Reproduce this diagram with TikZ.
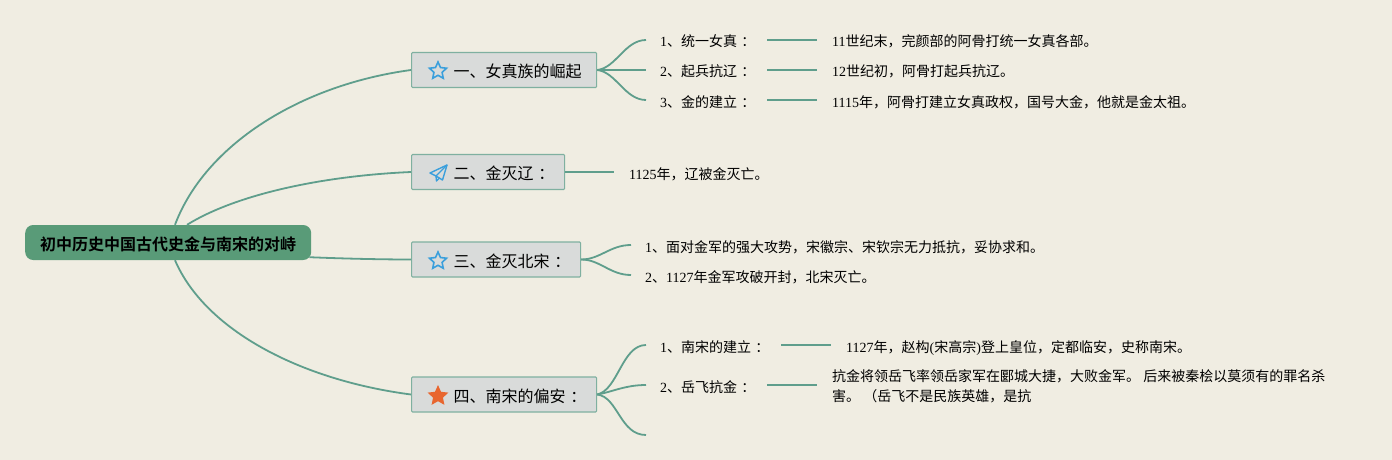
\documentclass[tikz,border=0pt]{standalone}
\usepackage{fontspec}
\setmainfont{Liberation Serif}
\newfontfamily\cjk{Noto Sans CJK SC}
\newfontfamily\cjkbold{Noto Sans CJK SC Bold}
\newcommand{\cjkcolon}{\makebox[1em][l]{\hspace{.3em}：}}
\usetikzlibrary{shapes.geometric}
\definecolor{paper}{HTML}{F0EDE2}
\definecolor{branch}{HTML}{5F9E8C}
\definecolor{rootgreen}{HTML}{599B78}
\definecolor{topicfill}{HTML}{D9DBDA}
\definecolor{topicline}{HTML}{7FB0A0}
\definecolor{iconblue}{HTML}{3A9FDC}
\definecolor{iconred}{HTML}{E8662F}
\tikzset{
  rootbox/.style={fill=rootgreen, rounded corners=8pt, minimum height=35pt, inner xsep=15pt, anchor=west, text height=15pt, text depth=0pt, font=\fontsize{16}{20}\selectfont},
  topicbox/.style={draw=topicline, fill=topicfill, line width=1.2pt, rounded corners=1pt, minimum height=35pt, inner xsep=15pt, anchor=west, text height=15pt, text depth=0pt, font=\fontsize{16}{20}\selectfont},
  subitem/.style={anchor=west, inner xsep=14pt, text width=#1, align=left, text height=14pt, text depth=0pt, font=\fontsize{14}{20}\selectfont},
  detail/.style={anchor=west, inner xsep=15pt, align=left, text height=14pt, text depth=0pt, font=\fontsize{14}{20}\selectfont},
  link/.style={draw=branch, line width=1.8pt},
  staricon/.style={star, star points=5, star point ratio=2.1, minimum size=18pt, inner sep=0pt, line width=1.6pt},
}
\begin{document}
\begin{tikzpicture}[x=1pt,y=-1pt]
  \useasboundingbox[fill=paper] (0,0) rectangle (1392,460);

  \node[rootbox] (root) at (25,242.5) {{\cjkbold 初中历史中国古代史金与南宋的对峙}};

  \node[topicbox] (topA) at (411,70) {\hspace*{27pt}{\cjk 一、女真族的崛起}};
  \node[topicbox] (topB) at (411,172) {\hspace*{27pt}{\cjk 二、金灭辽\cjkcolon}};
  \node[topicbox] (topC) at (411,259.5) {\hspace*{27pt}{\cjk 三、金灭北宋\cjkcolon}};
  \node[topicbox] (topD) at (411,394.5) {\hspace*{27pt}{\cjk 四、南宋的偏安\cjkcolon}};

  \node[staricon, draw=iconblue] (starA) at (438,71) {};
  \node[staricon, draw=iconblue] (starC) at (438,261) {};
  \node[staricon, draw=iconred, fill=iconred] (starD) at (438,396) {};
  \draw[iconblue, line width=1.4pt, line join=round] (447,165) -- (430,173) -- (436,176) -- (442.5,180) -- cycle;
  \draw[iconblue, line width=1.4pt, line join=round] (447,165) -- (436,176) -- (436.5,181) -- (439.5,178);

  \draw[link] ([xshift=150pt]root.north west) .. controls (205,145) and (300,85) .. (topA.west);
  \draw[link] ([xshift=162pt]root.north west) .. controls (235,195) and (320,176) .. (topB.west);
  \draw[link] (root.south east) ++(-2,-3) .. controls (340,258.5) and (380,259.5) .. (topC.west);
  \draw[link] ([xshift=150pt]root.south west) .. controls (205,330) and (300,380) .. (topD.west);

  \node[subitem=93pt] (itemAa) at (646,40) {1{\cjk 、统一女真\cjkcolon}};
  \node[subitem=93pt] (itemAb) at (646,70) {2{\cjk 、起兵抗辽\cjkcolon}};
  \node[subitem=93pt] (itemAc) at (646,100) {3{\cjk 、金的建立\cjkcolon}};
  \node[detail] (infoAa) at (817,40) {11{\cjk 世纪末，完颜部的阿骨打统一女真各部。}};
  \node[detail] (infoAb) at (817,70) {12{\cjk 世纪初，阿骨打起兵抗辽。}};
  \node[detail] (infoAc) at (817,100) {1115{\cjk 年，阿骨打建立女真政权，国号大金，他就是金太祖。}};
  \draw[link] (topA.east) .. controls (616,68) and (625,40) .. (itemAa.west);
  \draw[link] (topA.east) -- (itemAb.west);
  \draw[link] (topA.east) .. controls (616,72) and (625,100) .. (itemAc.west);
  \draw[link] (itemAa) -- (infoAa);
  \draw[link] (itemAb) -- (infoAb);
  \draw[link] (itemAc) -- (infoAc);

  \node[detail] (infoB) at (614,172) {1125{\cjk 年，辽被金灭亡。}};
  \draw[link] (topB.east) -- (infoB.west);

  \node[subitem=400pt] (itemCa) at (631,245) {1{\cjk 、面对金军的强大攻势，宋徽宗、宋钦宗无力抵抗，妥协求和。}};
  \node[subitem=400pt] (itemCb) at (631,275) {2{\cjk 、}1127{\cjk 年金军攻破开封，北宋灭亡。}};
  \draw[link] (topC.east) .. controls (600,259.5) and (610,245) .. (itemCa.west);
  \draw[link] (topC.east) .. controls (600,259.5) and (610,275) .. (itemCb.west);

  \node[subitem=107pt] (itemDa) at (646,345) {1{\cjk 、南宋的建立\cjkcolon}};
  \node[subitem=93pt] (itemDb) at (646,385) {2{\cjk 、岳飞抗金\cjkcolon}};
  \coordinate (itemDc) at (646,435);
  \node[detail] (infoDa) at (831,345) {1127{\cjk 年，赵构}({\cjk 宋高宗}){\cjk 登上皇位，定都临安，史称南宋。}};
  \node[detail] (infoDb) at (817,394) {{\cjk 抗金将领岳飞率领岳家军在郾城大捷，大败金军。 后来被秦桧以莫须有的罪名杀}\\{\cjk 害。 （岳飞不是民族英雄，是抗}};
  \draw[link] (topD.east) .. controls (618,390) and (622,345) .. (itemDa.west);
  \draw[link] (topD.east) .. controls (612,392) and (625,385) .. (itemDb.west);
  \draw[link] (topD.east) .. controls (618,397) and (620,435) .. (itemDc);
  \draw[link] (itemDa) -- (infoDa);
  \draw[link] (itemDb) -- (itemDb -| infoDb.west);
\end{tikzpicture}
\end{document}
